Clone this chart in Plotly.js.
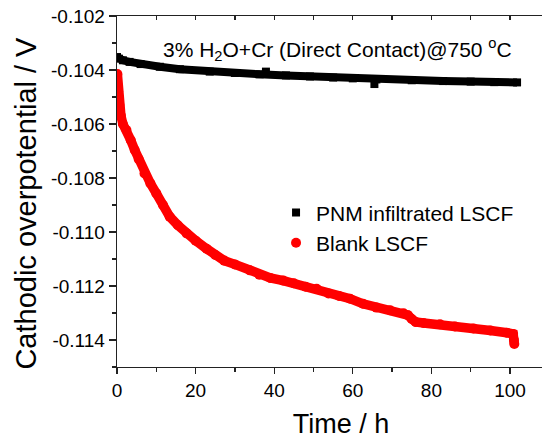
<!DOCTYPE html>
<html>
<head>
<meta charset="utf-8">
<script src="https://cdn.plot.ly/plotly-3.0.1.min.js"></script>
<style>
html, body { margin:0; padding:0; overflow:hidden; background:#fff; }
#wrap { width:542px; height:439px; overflow:hidden; }
</style>
</head>
<body>
<div id="wrap"><div id="chart"></div></div>
<script>
// Time (h) and cathodic overpotential (V)
const pnmTime = [0, 0.5, 1.5, 3.2, 6, 10.9, 16, 23.6, 30, 36.3, 43, 49.1, 55, 60, 66, 75, 83, 90, 96, 101.8];
const pnmVolt = [-0.10352, -0.10358, -0.10364, -0.1037, -0.10378, -0.10388, -0.10397, -0.10406, -0.10411, -0.10416, -0.1042, -0.10424, -0.10428, -0.10431, -0.10435, -0.10438, -0.10441, -0.10443, -0.10445, -0.10446];
const pnmOutlierTime = [37.9, 65.5];
const pnmOutlierVolt = [-0.10406, -0.10452];

const blankTime = [0.1, 0.3, 0.6, 1.0, 1.5, 2.4, 3.5, 4.5, 5.5, 7.0, 8.5, 10.0, 11.7, 13.4, 15.5, 17.7, 20, 22.8, 25, 27.3, 30, 33.8, 36.2, 39, 42.3, 45, 48, 50.8, 53.8, 56.5, 59.3, 62.6, 66, 69.5, 72.9, 74.0, 75.0, 76.0, 78, 82.2, 86, 90.7, 95, 99.2, 100.8, 101.0, 101.1];
const blankVolt = [-0.10415, -0.1048, -0.1053, -0.1057, -0.106, -0.10622, -0.1066, -0.10696, -0.1073, -0.10783, -0.1082, -0.10857, -0.109, -0.10943, -0.10975, -0.11005, -0.11032, -0.11062, -0.11085, -0.11106, -0.1112, -0.11142, -0.11158, -0.1117, -0.1118, -0.1119, -0.11203, -0.1121, -0.11228, -0.11237, -0.11247, -0.11266, -0.1128, -0.1129, -0.11301, -0.11308, -0.11322, -0.11333, -0.11337, -0.11342, -0.1135, -0.11357, -0.11365, -0.11373, -0.11378, -0.114, -0.11415];

const seriesNames = ['PNM infiltrated LSCF', 'Blank LSCF'];
const yTickVals = [-0.114, -0.112, -0.110, -0.108, -0.106, -0.104, -0.102];
const yTickText = ['-0.114', '-0.112', '-0.110', '-0.108', '-0.106', '-0.104', '-0.102'];
const xTickVals = [0, 20, 40, 60, 80, 100];
const xTickText = ['0', '20', '40', '60', '80', '100'];

const FONT = 'Liberation Sans, Arial, sans-serif';
const AX = '#222';

const traces = [
  {x: blankTime, y: blankVolt, type: 'scatter', mode: 'lines', showlegend: false, hoverinfo: 'skip',
   line: {color: '#ff0000', width: 9.5}},
  {x: blankTime, y: blankVolt, type: 'scatter', mode: 'markers', name: seriesNames[1],
   marker: {symbol: 'circle', size: 10, color: '#ff0000'}},
  {x: pnmTime, y: pnmVolt, type: 'scatter', mode: 'lines', showlegend: false, hoverinfo: 'skip',
   line: {color: '#000000', width: 8}},
  {x: pnmTime, y: pnmVolt, type: 'scatter', mode: 'markers', name: seriesNames[0],
   marker: {symbol: 'square', size: 8, color: '#000000'}},
  {x: pnmOutlierTime, y: pnmOutlierVolt, type: 'scatter', mode: 'markers', showlegend: false,
   marker: {symbol: 'square', size: 8, color: '#000000'}},
  {x: [], y: [], xaxis: 'x2', type: 'scatter', showlegend: false}
];

const layout = {
  width: 575, height: 439,
  margin: {l: 117, r: 10, t: 16, b: 72},
  paper_bgcolor: '#fff', plot_bgcolor: '#fff',
  font: {family: FONT, color: '#000'},
  showlegend: true,
  legend: {x: 0.355, y: 0.3966, xanchor: 'left', yanchor: 'middle', traceorder: 'reversed',
           font: {family: FONT, size: 21, color: '#000'}, bgcolor: 'rgba(0,0,0,0)'},
  xaxis: {
    range: [0, 114], showgrid: false, zeroline: false,
    showline: true, linecolor: AX, linewidth: 1.3,
    ticks: 'outside', ticklen: 6, tickwidth: 1.3, tickcolor: AX,
    tickvals: xTickVals, ticktext: xTickText,
    minor: {dtick: 10, ticks: 'outside', ticklen: 4, tickwidth: 1.3, tickcolor: AX},
    tickfont: {family: FONT, size: 19, color: '#000'},
    title: {text: 'Time / h', font: {family: FONT, size: 27, color: '#000'}, standoff: 20}
  },
  xaxis2: {
    overlaying: 'x', side: 'top', anchor: 'y', range: [0, 114],
    showgrid: false, zeroline: false, showline: true, linecolor: AX, linewidth: 1.3,
    ticks: 'inside', ticklen: 4, tickwidth: 1.3, tickcolor: AX, dtick: 10, tick0: 0,
    showticklabels: false
  },
  yaxis: {
    range: [-0.115, -0.102], showgrid: false, zeroline: false,
    showline: true, linecolor: AX, linewidth: 1.3,
    ticks: 'outside', ticklen: 7, tickwidth: 1.3, tickcolor: AX,
    tickvals: yTickVals, ticktext: yTickText,
    minor: {dtick: 0.001, tick0: -0.115, ticks: 'outside', ticklen: 4, tickwidth: 1.3, tickcolor: AX},
    tickfont: {family: FONT, size: 19, color: '#000'},
    title: {text: 'Cathodic overpotential / V&nbsp;&nbsp;&nbsp;', font: {family: FONT, size: 29, color: '#000'}, standoff: 6}
  },
  annotations: [{
    x: 11.2, y: -0.10325, xref: 'x', yref: 'y', xanchor: 'left', yanchor: 'middle',
    text: '3% H<sub>2</sub>O+Cr (Direct Contact)@750 <sup>o</sup>C', showarrow: false,
    font: {family: FONT, size: 21, color: '#000'}
  }]
};

Plotly.newPlot('chart', traces, layout, {displayModeBar: false, staticPlot: true});
</script>
</body>
</html>
